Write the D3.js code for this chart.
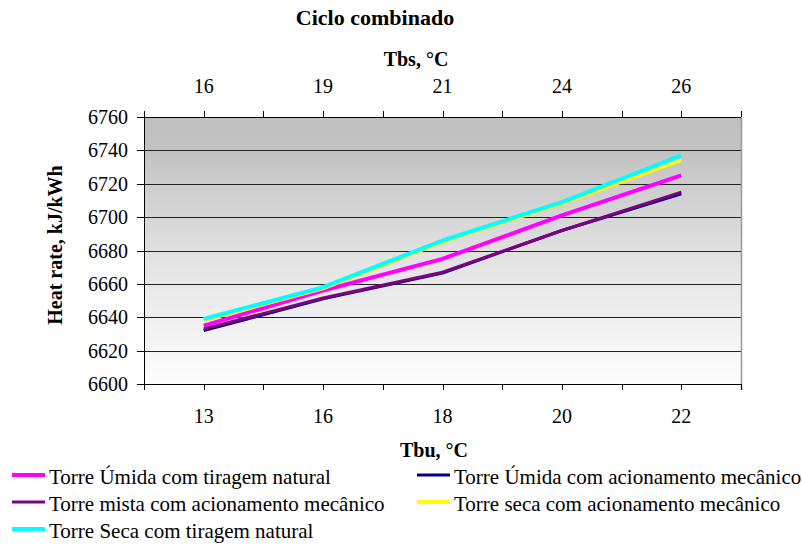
<!DOCTYPE html>
<html>
<head>
<meta charset="utf-8">
<script src="https://cdn.jsdelivr.net/npm/d3@7"></script>
<style>
  html, body { margin: 0; padding: 0; background: #fff; }
  svg { display: block; }
</style>
</head>
<body>
<svg id="chart" width="802" height="545" style='font-family: "Liberation Serif", "Times New Roman"'></svg>
<script>
// ---- data ----
const tbuLabels = ["13", "16", "18", "20", "22"];      // bottom axis (Tbu, °C)
const tbsLabels = ["16", "19", "21", "24", "26"];      // top axis (Tbs, °C)
const yTicks = [6600, 6620, 6640, 6660, 6680, 6700, 6720, 6740, 6760];

const seriesNames = [
  "Torre Úmida com tiragem natural",
  "Torre Úmida com acionamento mecânico",
  "Torre mista com acionamento mecânico",
  "Torre seca com acionamento mecânico",
  "Torre Seca com tiragem natural"
];
const umidaNatural   = [6635, 6656, 6675, 6701, 6725];
const umidaMecanico  = [6632, 6651, 6666.5, 6692, 6714];
const mistaMecanico  = [6633, 6651.5, 6667, 6692, 6715];
const secaMecanico   = [6638, 6657, 6685, 6708, 6734];
const secaNatural    = [6639, 6658, 6686, 6709, 6737];
const seriesValues = [umidaNatural, umidaMecanico, mistaMecanico, secaMecanico, secaNatural];
const seriesColors = ["#ff00ff", "#000080", "#800080", "#ffff00", "#00ffff"];
const seriesWidths = [4, 3, 3, 3, 4];

// ---- layout ----
const svg = d3.select("#chart");
const FONT = '"Liberation Serif", "Times New Roman"';
const L = 144, R = 741, T = 117, B = 384;

const x = d3.scaleBand().domain(d3.range(tbuLabels.length)).range([L, R]).padding(0);
const cx = i => x(i) + x.bandwidth() / 2;
const y = d3.scaleLinear().domain([6600, 6760]).range([B, T]);

// background gradient
const defs = svg.append("defs");
const grad = defs.append("linearGradient").attr("id", "bg").attr("x1", 0).attr("y1", 0).attr("x2", 0).attr("y2", 1);
grad.append("stop").attr("offset", "0%").attr("stop-color", "#bfbfbf");
grad.append("stop").attr("offset", "12%").attr("stop-color", "#c2c2c2");
grad.append("stop").attr("offset", "55%").attr("stop-color", "#e4e4e4");
grad.append("stop").attr("offset", "100%").attr("stop-color", "#fdfdfd");

svg.append("rect").attr("x", L).attr("y", T).attr("width", R - L).attr("height", B - T).attr("fill", "url(#bg)");

// gridlines
svg.append("g").selectAll("line").data(yTicks).join("line")
  .attr("x1", L).attr("x2", R)
  .attr("y1", d => Math.round(y(d)) + 0.5).attr("y2", d => Math.round(y(d)) + 0.5)
  .attr("stroke", "#222").attr("stroke-width", 1);

// right border
svg.append("line").attr("x1", R + 0.5).attr("x2", R + 0.5).attr("y1", T).attr("y2", B + 6)
  .attr("stroke", "#999").attr("stroke-width", 1.5);

// tick positions at band edges and centres
const tickPos = [];
for (let i = 0; i < tbuLabels.length; i++) { tickPos.push(x(i)); tickPos.push(cx(i)); }
tickPos.push(R);

function txt(sel) { return sel.style("font-family", FONT).style("fill", "#000"); }

// bottom axis
svg.append("line").attr("x1", L).attr("x2", R).attr("y1", B + 0.5).attr("y2", B + 0.5).attr("stroke", "#000");
svg.append("g").selectAll("line").data(tickPos).join("line")
  .attr("x1", d => Math.round(d) + 0.5).attr("x2", d => Math.round(d) + 0.5)
  .attr("y1", B).attr("y2", B + 6).attr("stroke", "#000");
txt(svg.append("g").selectAll("text").data(tbuLabels).join("text"))
  .attr("x", (d, i) => cx(i)).attr("y", 423).attr("text-anchor", "middle")
  .style("font-size", "20px").text(d => d);

// top axis
svg.append("line").attr("x1", L).attr("x2", R).attr("y1", T + 0.5).attr("y2", T + 0.5).attr("stroke", "#000");
svg.append("g").selectAll("line").data(tickPos).join("line")
  .attr("x1", d => Math.round(d) + 0.5).attr("x2", d => Math.round(d) + 0.5)
  .attr("y1", T - 6).attr("y2", T).attr("stroke", "#000");
txt(svg.append("g").selectAll("text").data(tbsLabels).join("text"))
  .attr("x", (d, i) => cx(i)).attr("y", 93).attr("text-anchor", "middle")
  .style("font-size", "20px").text(d => d);

// left axis
svg.append("line").attr("x1", L + 0.5).attr("x2", L + 0.5).attr("y1", T - 6).attr("y2", B + 6).attr("stroke", "#000");
svg.append("g").selectAll("line").data(yTicks).join("line")
  .attr("x1", L - 7).attr("x2", L)
  .attr("y1", d => Math.round(y(d)) + 0.5).attr("y2", d => Math.round(y(d)) + 0.5)
  .attr("stroke", "#000");
txt(svg.append("g").selectAll("text").data(yTicks).join("text"))
  .attr("x", 128).attr("y", d => y(d)).attr("dy", "0.35em").attr("text-anchor", "end")
  .style("font-size", "20px").text(d => d);

// series lines
const line = d3.line().x((d, i) => cx(i)).y(d => y(d));
seriesValues.forEach((vals, k) => {
  svg.append("path").datum(vals).attr("d", line)
    .attr("fill", "none").attr("stroke", seriesColors[k])
    .attr("stroke-width", seriesWidths[k]).attr("stroke-linejoin", "round");
});

// titles
txt(svg.append("text")).attr("x", 375).attr("y", 25).attr("text-anchor", "middle")
  .style("font-size", "22px").style("font-weight", "bold").text("Ciclo combinado");
txt(svg.append("text")).attr("x", 416).attr("y", 66).attr("text-anchor", "middle")
  .style("font-size", "20px").style("font-weight", "bold").text("Tbs, °C");
txt(svg.append("text")).attr("x", 434).attr("y", 457).attr("text-anchor", "middle")
  .style("font-size", "20px").style("font-weight", "bold").text("Tbu, °C");
txt(svg.append("text")).attr("transform", "translate(62,245) rotate(-90)").attr("text-anchor", "middle")
  .style("font-size", "20px").style("font-weight", "bold").text("Heat rate, kJ/kWh");

// legend
const legendPos = [
  { lx: 12, ly: 475 }, { lx: 417, ly: 475 },
  { lx: 12, ly: 502 }, { lx: 417, ly: 502 },
  { lx: 12, ly: 529 }
];
const legendWidths = [4, 3, 3, 4, 4];
const lg = svg.append("g").selectAll("g").data(seriesNames).join("g")
  .attr("transform", (d, i) => `translate(${legendPos[i].lx},${legendPos[i].ly})`);
lg.append("line").attr("x1", 0).attr("x2", 33).attr("y1", 0).attr("y2", 0)
  .attr("stroke", (d, i) => seriesColors[i]).attr("stroke-width", (d, i) => legendWidths[i]);
txt(lg.append("text")).attr("x", 37).attr("y", 9).style("font-size", "21px").text(d => d);
</script>
</body>
</html>
